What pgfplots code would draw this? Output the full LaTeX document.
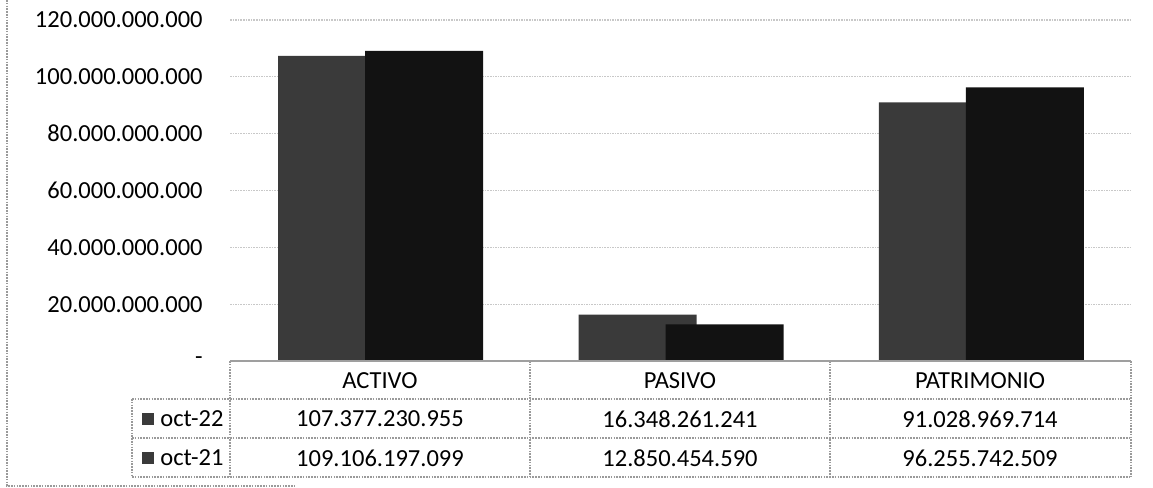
\documentclass[border=0pt]{standalone}
\usepackage{pgfplots}
\pgfplotsset{compat=1.18}
\usepackage{fontspec}
\setmainfont{Carlito}
\definecolor{c22}{HTML}{3A3A3A}
\definecolor{c21}{HTML}{121212}
\definecolor{gridc}{HTML}{C8C8C8}
\definecolor{tblc}{HTML}{9A9A9A}
\newcommand{\tf}{\fontsize{12.3}{14}\selectfont}
\begin{document}
\begin{tikzpicture}
\begin{axis}[
  at={(115bp,63.5bp)}, anchor=south west,
  scale only axis, width=450.5bp, height=170.5bp,
  xmin=-0.5, xmax=2.5, ymin=0, ymax=120000000000,
  xtick=\empty,
  ytick={0,20000000000,40000000000,60000000000,80000000000,100000000000,120000000000},
  yticklabels={-,20.000.000.000,40.000.000.000,60.000.000.000,80.000.000.000,100.000.000.000,120.000.000.000},
  yticklabel style={inner sep=0pt, xshift=-13.5bp, font=\tf},
  scaled y ticks=false,
  axis line style={draw=none},
  major tick length=0pt,
  ymajorgrids, grid style={gridc, line width=0.6bp, dash pattern=on 0.8bp off 0.5bp},
  clip=false,
]
\addplot[ybar, bar width=59bp, bar shift=-21.5bp, fill=c22, draw=none]
  coordinates {(0,107377230955) (1,16348261241) (2,91028969714)};
\addplot[ybar, bar width=59bp, bar shift=22bp, fill=c21, draw=none]
  coordinates {(0,109106197099) (1,12850454590) (2,96255742509)};
\end{axis}
\begin{scope}[x=0.5bp, y=-0.5bp, yshift=244bp]
\useasboundingbox (0,0) rectangle (1153,488);
% chart frame
\draw[tblc, line width=0.6bp, dash pattern=on 0.8bp off 0.6bp] (7,0) -- (7,486) -- (295,486);
% table
\begin{scope}[tblc, line width=0.6bp, dash pattern=on 0.8bp off 0.6bp]
\draw (132,399) -- (1131,399);
\draw (132,438) -- (1131,438);
\draw (132,477) -- (1131,477);
\draw (132,399) -- (132,477);
\draw (230,361) -- (230,477);
\draw (530,361) -- (530,477);
\draw (830,361) -- (830,477);
\draw (1131,361) -- (1131,477);
\end{scope}
\draw[gray!75, line width=1.1bp] (230,361) -- (1131,361);
\node[font=\tf] at (380,381) {ACTIVO};
\node[font=\tf] at (680,381) {PASIVO};
\node[font=\tf] at (980,381) {PATRIMONIO};
\node[font=\tf] at (380,419) {107.377.230.955};
\node[font=\tf] at (680,419) {16.348.261.241};
\node[font=\tf] at (980,419) {91.028.969.714};
\node[font=\tf] at (380,458) {109.106.197.099};
\node[font=\tf] at (680,458) {12.850.454.590};
\node[font=\tf] at (980,458) {96.255.742.509};
\fill[c22] (142,413) rectangle (154,425);
\fill[c22] (142,452) rectangle (154,464);
\node[font=\tf, anchor=west, inner sep=0pt] at (160,419) {oct-22};
\node[font=\tf, anchor=west, inner sep=0pt] at (160,458) {oct-21};
\end{scope}
\end{tikzpicture}
\end{document}
